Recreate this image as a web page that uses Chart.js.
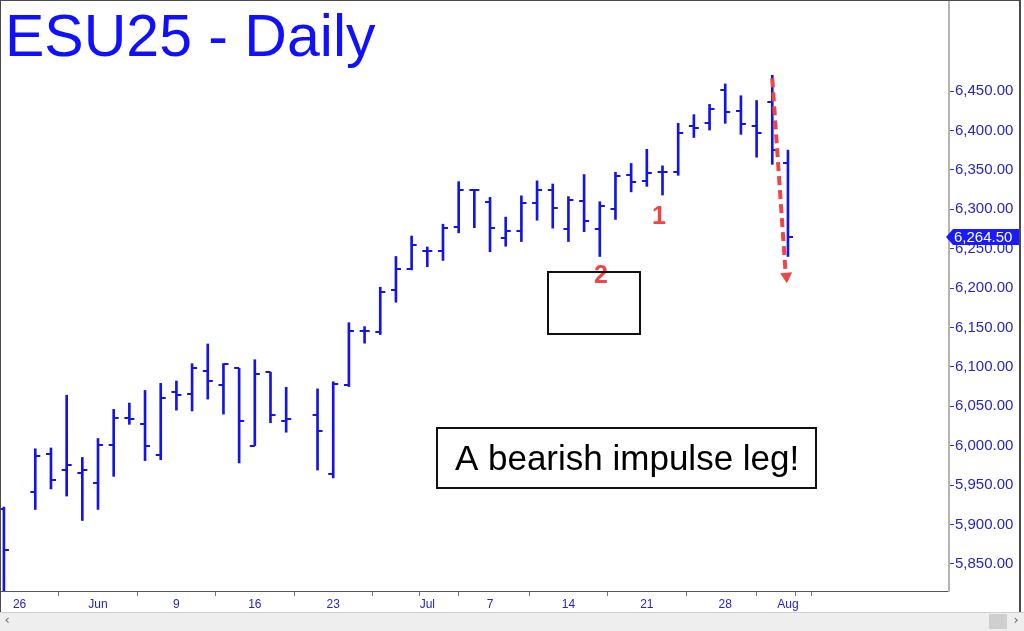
<!DOCTYPE html>
<html><head><meta charset="utf-8">
<script src="https://cdn.jsdelivr.net/npm/chart.js@4.4.1/dist/chart.umd.min.js"></script>
<style>html,body{margin:0;padding:0;background:#fff;overflow:hidden}#wrap{width:1024px;height:631px;position:relative}</style>
</head><body><div id="wrap"><canvas id="c" width="1024" height="631"></canvas></div>
<script>
// ---------- DATA ----------
const titleText = 'ESU25 - Daily';
const dates = ['2025-05-23','2025-05-26','2025-05-27','2025-05-28','2025-05-29','2025-05-30',
 '2025-06-02','2025-06-03','2025-06-04','2025-06-05','2025-06-06',
 '2025-06-09','2025-06-10','2025-06-11','2025-06-12','2025-06-13',
 '2025-06-16','2025-06-17','2025-06-18','2025-06-19','2025-06-20',
 '2025-06-23','2025-06-24','2025-06-25','2025-06-26','2025-06-27',
 '2025-06-30','2025-07-01','2025-07-02','2025-07-03','2025-07-04',
 '2025-07-07','2025-07-08','2025-07-09','2025-07-10','2025-07-11',
 '2025-07-14','2025-07-15','2025-07-16','2025-07-17','2025-07-18',
 '2025-07-21','2025-07-22','2025-07-23','2025-07-24','2025-07-25',
 '2025-07-28','2025-07-29','2025-07-30','2025-07-31','2025-08-01'];
const openP  = [5920,null,5941.5,5989,5969,5965, 5952,6001,6035,6028,5988, 6068,6066,6095,6077,6098, 6000,6093,6031,null,6039,
 5964,6077,6145,6144,6198, 6224,6247,6247,6277,6324, 6309,6263,6272,6307.5,6324, 6274.5,6311,6274.5,6300,6343,
 6336,6347.5,6347.5,6406,6409, 6451,6425,6405.5,6436.5,6359];
const highP  = [5922,null,5996,5997,6064,5985, 6009,6046,6054,6070,6079, 6082,6104,6129,6104,6098, 6109,6093,6074,null,6072,
 6081,6156,6151,6201,6240, 6266,6252,6281,6335,6325, 6315,6290,6317,6336,6332, 6316,6344,6309.5,6347,6358,
 6376,6355,6409,6420,6433, 6459,6444,6438,6470,6375];
const lowP   = [5800,null,5919,5945,5936,5905, 5919,5961,6027,5981,5982, 6045,6044,6059,6040,5978, 6000,6029,6017,null,5969,
 5959,6075,6130,6141,6182, 6223,6227,6235,6270,6276.5, 6246,6253,6259,6286,6276, 6259,6271.5,6240,6287,6322,
 6329,6318,6343,6391,6400.5, 6409,6395,6366,6357,6240];
const closeP = [5867,null,5987,5956,5976,5969, 6001,6035,6034,5999,6060, 6064,6099,6082,6103,6031, 6091,6039,6034,null,6018,
 6078,6146,6146,6195,6224, 6254,6247,6276,6324,6325, 6276,6272,6307.5,6324,6301, 6311.5,6285,6304,6342,6335,
 6345.5,6347.5,6397,6403,6427, 6423,6408,6397,6375,6264.5];
const xTickIdx    = [1, 6, 11, 16, 21, 26, 27, 31, 36, 41, 46, 50, 51];
const xTickLabels = ['26','Jun','9','16','23','','Jul','7','14','21','28','Aug',''];
const yTicks = [5850,5900,5950,6000,6050,6100,6150,6200,6250,6300,6350,6400,6450];
const arrowX = [49.0, 49.84];
const arrowY = [6466, 6222];
const arrowHead = {x: 49.9, y: 6215};
const waveLabels = ['1','2'];
const waveLabelX = [41.78, 38.07];
const waveLabelY = [6291, 6217];
const targetBox = {x0: 34.72, x1: 40.61, y0: 6220, y1: 6141.6};
const calloutText = 'A bearish impulse leg!';
const calloutBox = {x0: 27.64, x1: 51.84, y0: 6022, y1: 5946};

// ---------- STYLE ----------
const BAR_BLUE = '#1414e6';
const AXIS_BLUE = '#2424c8';
const RED = '#ee4646';

function hasFont(name){
  const c = document.createElement('canvas').getContext('2d');
  c.font = '30px "' + name + '", monospace'; const a = c.measureText('Jun 26 abcxyz').width;
  c.font = '30px monospace'; const b = c.measureText('Jun 26 abcxyz').width;
  return a !== b;
}
const narrow = hasFont('Liberation Sans Narrow');
const xFont = narrow ? {family:'"Liberation Sans Narrow"', size:14} : {family:'"Liberation Sans"', size:12};

function tickCanvas(side){
  const cv = document.createElement('canvas');
  cv.width = 12; cv.height = 2;
  const g = cv.getContext('2d');
  g.fillStyle = BAR_BLUE;
  if (side === 'left') g.fillRect(1, 0, 5, 2); else g.fillRect(6, 0, 5, 2);
  return cv;
}
const openTick = tickCanvas('left');
const closeTick = tickCanvas('right');

const idx = dates.map((d,i)=>i).filter(i => highP[i] !== null);
const barData = idx.map(i => ({x:i, y:[lowP[i], highP[i]]}));
const openData = idx.map(i => ({x:i, y:openP[i]}));
const closeData = idx.map(i => ({x:i, y:closeP[i]}));

const fmt = v => v.toLocaleString('en-US', {minimumFractionDigits:2, maximumFractionDigits:2});

const overlay = {
  id: 'overlay',
  afterDraw(chart){
    const {ctx, scales:{x, y}} = chart;
    ctx.save();
    // title
    ctx.fillStyle = '#1010ff';
    ctx.font = '59px "Liberation Sans", Arial, sans-serif';
    ctx.textAlign = 'left'; ctx.textBaseline = 'alphabetic';
    ctx.fillText(titleText, 5, 56);
    // wave labels
    ctx.fillStyle = RED;
    ctx.font = 'bold 25px "Liberation Sans", Arial, sans-serif';
    ctx.textAlign = 'center'; ctx.textBaseline = 'middle';
    waveLabels.forEach((t,i) => ctx.fillText(t, x.getPixelForValue(waveLabelX[i]), y.getPixelForValue(waveLabelY[i]) + 1));
    // target box
    ctx.strokeStyle = '#111'; ctx.lineWidth = 2;
    const tx0 = x.getPixelForValue(targetBox.x0), tx1 = x.getPixelForValue(targetBox.x1);
    const ty0 = y.getPixelForValue(targetBox.y0), ty1 = y.getPixelForValue(targetBox.y1);
    ctx.strokeRect(Math.round(tx0), Math.round(ty0), Math.round(tx1 - tx0), Math.round(ty1 - ty0));
    // callout
    const cx0 = x.getPixelForValue(calloutBox.x0), cx1 = x.getPixelForValue(calloutBox.x1);
    const cy0 = y.getPixelForValue(calloutBox.y0), cy1 = y.getPixelForValue(calloutBox.y1);
    ctx.fillStyle = '#fff';
    ctx.fillRect(cx0, cy0, cx1 - cx0, cy1 - cy0);
    ctx.strokeRect(Math.round(cx0), Math.round(cy0), Math.round(cx1 - cx0), Math.round(cy1 - cy0));
    ctx.fillStyle = '#000';
    ctx.font = '35px "Liberation Sans", Arial, sans-serif';
    ctx.textAlign = 'center'; ctx.textBaseline = 'alphabetic';
    ctx.fillText(calloutText, (cx0 + cx1) / 2, cy0 + 42);
    // price tag
    const last = closeP[closeP.length - 1];
    const yc = Math.round(y.getPixelForValue(last));
    ctx.fillStyle = '#1a1aff';
    ctx.beginPath();
    ctx.moveTo(946, yc); ctx.lineTo(953, yc - 8); ctx.lineTo(1019, yc - 8); ctx.lineTo(1019, yc + 8); ctx.lineTo(953, yc + 8);
    ctx.closePath(); ctx.fill();
    ctx.fillStyle = '#fff';
    ctx.font = '15px "Liberation Sans", Arial, sans-serif';
    ctx.textAlign = 'left'; ctx.textBaseline = 'middle';
    ctx.fillText(fmt(last), 954, yc + 1);
    // scrollbar
    ctx.fillStyle = '#eeeeee';
    ctx.fillRect(0, 612, 1024, 19);
    ctx.fillStyle = '#d0d0d0';
    ctx.fillRect(0, 612, 1024, 1);
    ctx.fillStyle = '#cfcfcf';
    ctx.fillRect(989, 614, 18, 15);
    ctx.fillStyle = '#666';
    ctx.font = '13px "DejaVu Sans", sans-serif';
    ctx.textAlign = 'center'; ctx.textBaseline = 'middle';
    ctx.fillText('\u2039', 7, 621); ctx.fillText('\u203A', 1016, 621);
    // frame
    ctx.fillStyle = '#4a4a4a';
    ctx.fillRect(0, 0, 1021, 1);
    ctx.fillRect(0, 0, 1, 612);
    ctx.fillRect(1019, 0, 2, 612);
    ctx.restore();
  }
};

function noPad(s){ s.paddingTop = 0; s.paddingBottom = 0; s.paddingLeft = 0; s.paddingRight = 0; }

new Chart(document.getElementById('c'), {
  type: 'bar',
  data: {
    datasets: [
      { type:'scatter', data:[arrowHead], pointStyle:'triangle', rotation:176, pointRadius:7,
        backgroundColor:RED, borderColor:RED, borderWidth:0 },
      { type:'line', data: arrowX.map((v,i)=>({x:v, y:arrowY[i]})), borderColor:RED, borderWidth:4,
        borderDash:[9,5], pointRadius:0, fill:false, tension:0 },
      { type:'scatter', data: openData, pointStyle: openTick, pointRadius:3 },
      { type:'scatter', data: closeData, pointStyle: closeTick, pointRadius:3 },
      { type:'bar', data: barData, barThickness:2, backgroundColor:BAR_BLUE, borderWidth:0, borderSkipped:false }
    ]
  },
  options: {
    responsive:false, animation:false, devicePixelRatio:1,
    layout:{padding:0, autoPadding:false},
    plugins:{legend:{display:false}, tooltip:{enabled:false}, title:{display:false}},
    scales:{
      x:{ type:'linear', min:-0.25, max:60.27, offset:false,
        afterBuildTicks: s => { s.ticks = xTickIdx.map(v => ({value:v})); },
        afterFit: s => { s.height = 40; noPad(s); },
        ticks:{ autoSkip:false, maxRotation:0, color:AXIS_BLUE, font:xFont, padding:1,
          callback:(v,i) => xTickLabels[i] },
        grid:{ drawOnChartArea:false, drawTicks:true, tickLength:5, color:'#777' },
        border:{ display:true, color:'#555', width:1 }
      },
      y:{ position:'right', min:5815.5, max:6565.5,
        afterBuildTicks: s => { s.ticks = yTicks.map(v => ({value:v})); },
        afterFit: s => { s.width = 75; noPad(s); },
        ticks:{ color:AXIS_BLUE, font:{family:'"Liberation Sans", Arial, sans-serif', size:15}, padding:1,
          callback: v => fmt(v) },
        grid:{ drawOnChartArea:false, drawTicks:true, tickLength:5, color:'#3a3ab0' },
        border:{ display:true, color:'#b4b4b4', width:2 }
      }
    }
  },
  plugins:[overlay]
});
</script>
</body></html>
